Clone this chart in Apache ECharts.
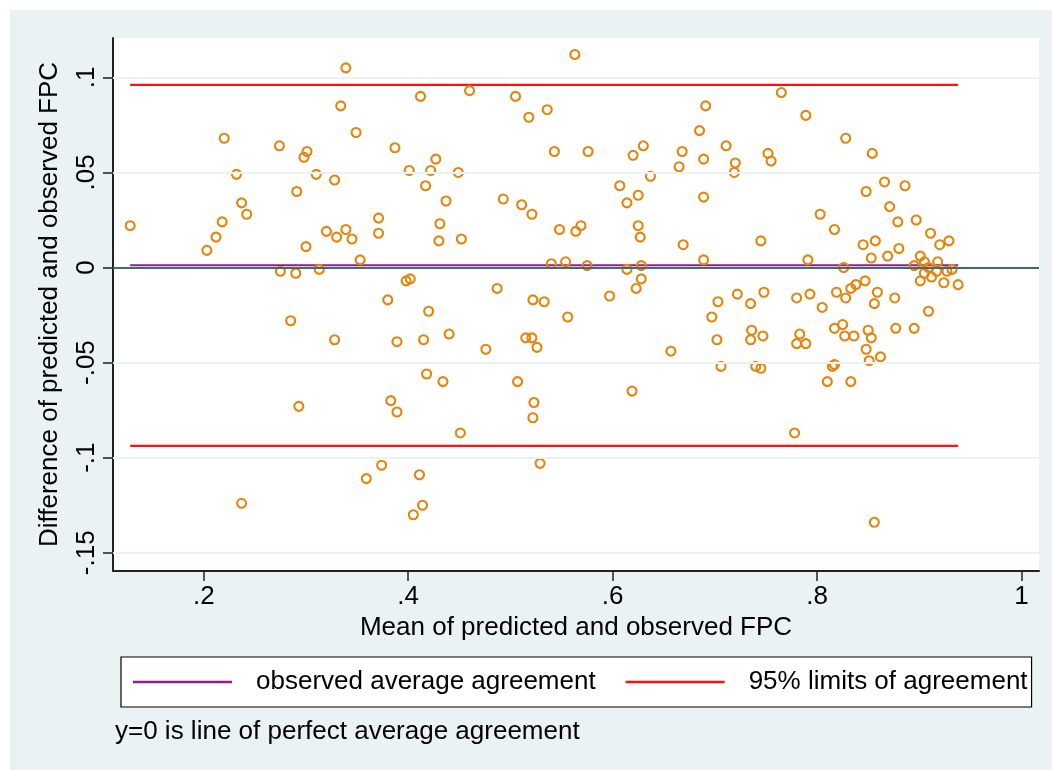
<!DOCTYPE html>
<html><head><meta charset="utf-8">
<script src="https://cdn.jsdelivr.net/npm/echarts@6/dist/echarts.min.js"></script>
<style>html,body{margin:0;padding:0;background:#fff}#c{width:1052px;height:770px}</style>
</head><body><div id="c"></div>
<script>
// Bland-Altman data: mean of predicted and observed FPC (x) vs difference (y)
const meanX = [
0.339,0.334,0.220,0.274,0.301,0.298,0.232,0.310,0.328,0.291,0.237,0.242,0.128,0.218,0.212,0.203,0.320,0.330,0.339,0.300,
0.275,0.290,0.313,0.349,0.387,0.412,0.460,0.505,0.518,0.536,0.563,0.543,0.427,0.401,0.422,0.449,0.417,0.437,0.493,0.511,
0.521,0.371,0.371,0.345,0.431,0.430,0.452,0.353,0.548,0.564,0.569,0.540,0.554,0.398,0.402,0.487,0.380,0.522,0.533,0.576,
0.620,0.630,0.637,0.607,0.625,0.614,0.668,0.665,0.685,0.691,0.689,0.711,0.720,0.719,0.689,0.752,0.755,0.765,0.789,0.625,
0.627,0.669,0.745,0.689,0.791,0.575,0.614,0.628,0.628,0.623,0.597,0.703,0.722,0.735,0.748,0.780,0.793,0.828,0.854,0.866,
0.848,0.886,0.871,0.803,0.817,0.879,0.897,0.911,0.845,0.857,0.880,0.920,0.929,0.853,0.869,0.901,0.918,0.826,0.895,0.905,
0.909,0.905,0.912,0.917,0.927,0.932,0.938,0.924,0.901,0.847,0.859,0.838,0.833,0.819,0.828,0.876,0.856,0.805,0.909,0.285,
0.328,0.293,0.237,0.420,0.556,0.389,0.415,0.440,0.476,0.515,0.521,0.526,0.418,0.434,0.507,0.383,0.389,0.523,0.522,0.451,
0.374,0.359,0.411,0.529,0.414,0.405,0.697,0.702,0.736,0.735,0.747,0.657,0.706,0.740,0.745,0.783,0.780,0.789,0.619,0.778,
0.817,0.825,0.827,0.836,0.850,0.853,0.848,0.851,0.862,0.877,0.895,0.817,0.815,0.810,0.833,0.856
];
const diffY = [
0.105,0.085,0.068,0.064,0.061,0.058,0.049,0.049,0.046,0.040,0.034,0.028,0.022,0.024,0.016,0.009,0.019,0.016,0.020,0.011,
-0.002,-0.003,-0.001,0.071,0.063,0.090,0.093,0.090,0.079,0.083,0.112,0.061,0.057,0.051,0.051,0.050,0.043,0.035,0.036,0.033,
0.028,0.026,0.018,0.015,0.023,0.014,0.015,0.004,0.020,0.019,0.022,0.002,0.003,-0.007,-0.006,-0.011,-0.017,-0.017,-0.018,0.061,
0.059,0.064,0.048,0.043,0.038,0.034,0.061,0.053,0.072,0.085,0.057,0.064,0.055,0.050,0.037,0.060,0.056,0.092,0.080,0.022,
0.016,0.012,0.014,0.004,0.004,0.001,-0.001,0.001,-0.006,-0.011,-0.015,-0.018,-0.014,-0.019,-0.013,-0.016,-0.014,0.068,0.060,0.045,
0.040,0.043,0.032,0.028,0.020,0.024,0.025,0.018,0.012,0.014,0.010,0.012,0.014,0.005,0.006,0.006,0.003,0.000,0.001,0.003,
0.000,-0.003,-0.005,-0.002,-0.002,-0.001,-0.009,-0.008,-0.007,-0.007,-0.013,-0.009,-0.011,-0.013,-0.016,-0.016,-0.019,-0.021,-0.023,-0.028,
-0.038,-0.073,-0.124,-0.023,-0.026,-0.039,-0.038,-0.035,-0.043,-0.037,-0.037,-0.042,-0.056,-0.060,-0.060,-0.070,-0.076,-0.071,-0.079,-0.087,
-0.104,-0.111,-0.109,-0.103,-0.125,-0.130,-0.026,-0.038,-0.033,-0.038,-0.036,-0.044,-0.052,-0.052,-0.053,-0.035,-0.040,-0.040,-0.065,-0.087,
-0.032,-0.030,-0.036,-0.036,-0.033,-0.037,-0.043,-0.049,-0.047,-0.032,-0.032,-0.051,-0.052,-0.060,-0.060,-0.134
];
const meanDifference = 0.0012;
const upperLimit = 0.0961;
const lowerLimit = -0.0938;
const xTicks = [0.2, 0.4, 0.6, 0.8, 1];
const xTickLabels = ['.2', '.4', '.6', '.8', '1'];
const yTicks = [-0.15, -0.1, -0.05, 0, 0.05, 0.1];
const yTickLabels = ['-.15', '-.1', '-.05', '0', '.05', '.1'];
const xTitle = 'Mean of predicted and observed FPC';
const yTitle = 'Difference of predicted and observed FPC';
const seriesNames = ['observed average agreement', '95% limits of agreement'];
const noteText = 'y=0 is line of perfect average agreement';

const FONT = '"Liberation Sans", Arial, Helvetica, sans-serif';
const points = meanX.map((x, i) => [x, diffY[i]]);
const xLo = Math.min(...meanX), xHi = Math.max(...meanX);
const labelOf = (ticks, labels) => v => {
  const i = ticks.findIndex(t => Math.abs(t - v) < 1e-9);
  return i >= 0 ? labels[i] : '';
};

const chart = echarts.init(document.getElementById('c'), null, {renderer: 'canvas'});
chart.setOption({
  backgroundColor: '#EAF2F3',
  animation: false,
  textStyle: {fontFamily: FONT},
  graphic: [
    {type: 'rect', shape: {x: 0, y: 0, width: 1052, height: 10}, style: {fill: '#fff'}, silent: true},
    {type: 'rect', shape: {x: 0, y: 0, width: 10, height: 770}, style: {fill: '#fff'}, silent: true}
  ],
  title: {
    text: noteText, left: 115, top: 719, padding: 0,
    textStyle: {fontFamily: FONT, fontSize: 26, fontWeight: 'normal', color: '#000'}
  },
  grid: {left: 113, right: 13, top: 38, bottom: 199, show: true, backgroundColor: '#fff', borderWidth: 0},
  legend: {
    data: seriesNames,
    left: 121, top: 657, orient: 'horizontal',
    backgroundColor: '#fff', borderColor: '#000', borderWidth: 1.2, borderRadius: 0,
    padding: [12, 4, 12, 12], itemGap: 30,
    icon: 'rect', itemWidth: 99, itemHeight: 2.5,
    textStyle: {fontFamily: FONT, fontSize: 26, color: '#000', padding: [0, 0, 0, 19], lineHeight: 26}
  },
  xAxis: {
    type: 'value', min: 0.1112, max: 1.0171,
    name: xTitle, nameLocation: 'middle', nameGap: 42,
    nameTextStyle: {fontFamily: FONT, fontSize: 26, color: '#000'},
    axisLine: {show: true, onZero: false, lineStyle: {color: '#222', width: 2}},
    axisTick: {show: true, customValues: xTicks, length: 10, inside: false, lineStyle: {color: '#222', width: 1.5}},
    axisLabel: {customValues: xTicks, formatter: labelOf(xTicks, xTickLabels), margin: 13,
      fontFamily: FONT, fontSize: 26, color: '#000'},
    splitLine: {show: false}
  },
  yAxis: {
    type: 'value', min: -0.1596, max: 0.1207,
    name: yTitle, nameLocation: 'middle', nameGap: 50, nameRotate: 90,
    nameTextStyle: {fontFamily: FONT, fontSize: 26, color: '#000'},
    axisLine: {show: true, onZero: false, lineStyle: {color: '#222', width: 2}},
    axisTick: {show: true, customValues: yTicks, length: 10, inside: false, lineStyle: {color: '#222', width: 1.5}},
    axisLabel: {customValues: yTicks, formatter: labelOf(yTicks, yTickLabels), rotate: 90, margin: 13,
      fontFamily: FONT, fontSize: 26, color: '#000'},
    splitLine: {show: false}
  },
  series: [
    {
      name: 'gridlines', type: 'line', data: [], silent: true, z: 1,
      markLine: {silent: true, symbol: 'none', label: {show: false},
        lineStyle: {color: '#EAF2F3', width: 2, type: 'solid'},
        data: yTicks.map(v => ({yAxis: v}))}
    },
    {
      name: 'zero', type: 'line', data: [], silent: true, z: 2,
      markLine: {silent: true, symbol: 'none', label: {show: false},
        lineStyle: {color: '#3F6E6A', width: 2.2, type: 'solid'},
        data: [{yAxis: 0}]}
    },
    {
      name: seriesNames[0], type: 'line', z: 3, symbol: 'none', clip: false,
      color: '#8E1F8E', lineStyle: {color: '#8E1F8E', width: 2.2},
      data: [[xLo, meanDifference], [xHi, meanDifference]]
    },
    {
      name: seriesNames[1], type: 'line', z: 3, symbol: 'none', clip: false,
      color: '#FF1010', lineStyle: {color: '#FF1010', width: 2.2},
      data: [[xLo, upperLimit], [xHi, upperLimit]]
    },
    {
      name: seriesNames[1], type: 'line', z: 3, symbol: 'none', clip: false,
      color: '#FF1010', lineStyle: {color: '#FF1010', width: 2.2},
      data: [[xLo, lowerLimit], [xHi, lowerLimit]]
    },
    {
      name: 'points', type: 'scatter', z: 4, clip: false,
      symbol: 'circle', symbolSize: 9,
      itemStyle: {color: 'rgba(0,0,0,0)', borderColor: '#E5850B', borderWidth: 2.1, opacity: 1},
      data: points
    }
  ]
});
</script>
</body></html>
